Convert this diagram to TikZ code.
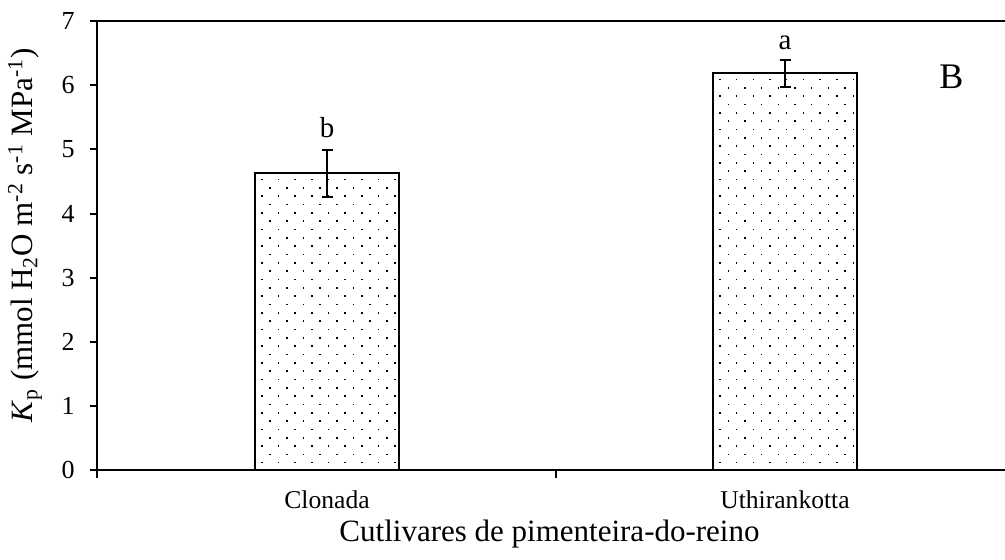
\documentclass[tikz,border=0pt]{standalone}
\usepackage{fontspec}
\setmainfont{Liberation Serif}
\usetikzlibrary{positioning}

\tikzset{
  axisline/.style={line width=1pt},
  barbox/.style={draw, line width=1pt},
  errbar/.style={line width=1pt},
  ticklabel/.style={font=\fontsize{13}{14}\selectfont, anchor=east, inner sep=0pt},
  catlabel/.style={font=\fontsize{12.8}{14}\selectfont, anchor=base, inner sep=0pt},
  siglabel/.style={font=\fontsize{14.5}{16}\selectfont, inner sep=0pt},
  axistitle/.style={font=\fontsize{15.5}{17}\selectfont, inner sep=0pt}
}

% dotted fill of one bar: left, right, top (px units)
\newcommand{\bardots}[3]{%
  \begin{scope}
    \clip (#1,90) rectangle (#2,#3);
    \foreach \r in {0,...,50}
      \foreach \c in {0,...,9}
        \fill ({#1+6.7+16.67*\c+8.33*mod(\r,2)-0.8},{96.5+8.33*\r}) rectangle ++(1.6,1.6);
  \end{scope}}

\begin{document}
\begin{tikzpicture}[x=0.5pt,y=0.5pt]
  \useasboundingbox (0,0) rectangle (1005,560);

  % bars with dots
  \bardots{255}{399}{386.8}
  \bardots{713.3}{856.7}{486.8}

  \begin{scope}[yshift=45pt, y=32.05pt]
    % axes
    \draw[axisline] (1005,7) -- (97,7) -- (97,0) -- (1005,0);
    \foreach \v in {0,...,7} {
      \draw[axisline] (90,\v) -- (97,\v);
      \node[ticklabel] (ytick\v) at (75,\v) {\v};
    }
    \foreach \x in {97,555.7}
      \draw[axisline] (\x,0) -- ++(0pt,-4pt);

    % bars
    \draw[barbox] (255,0) rectangle (399,4.63);
    \draw[barbox] (713.3,0) rectangle (856.7,6.19);

    % error bars
    \coordinate (errC) at (327,4.99);
    \coordinate (errU) at (785,6.40);
    \draw[errbar] (327,4.26) -- (errC);
    \draw[errbar] (321.5,4.26) -- (332.5,4.26);
    \draw[errbar] (321.5,4.99) -- (332.5,4.99);
    \draw[errbar] (785,5.97) -- (errU);
    \draw[errbar] (779.5,5.97) -- (790.5,5.97);
    \draw[errbar] (779.5,6.40) -- (790.5,6.40);

    \node[siglabel, above=6pt of errC] (sigC) {b};
    \node[siglabel, above=5pt of errU] (sigU) {a};
  \end{scope}

  % labels
  \node[catlabel] (catC) at (327,51) {Clonada};
  \node[catlabel] (catU) at (785,51) {Uthirankotta};
  \node[axistitle, anchor=base] (xtitle) at (549.5,18) {Cutlivares de pimenteira-do-reino};
  \node[axistitle, rotate=90] (ytitle) at (25,324.5)
    {\textit{K}\textsubscript{p} (mmol H\textsubscript{2}O m\textsuperscript{-2} s\textsuperscript{-1} MPa\textsuperscript{-1})};
  \node[font=\fontsize{18}{20}\selectfont, anchor=base west, inner sep=0pt] (panel) at (939,471.7) {B};
\end{tikzpicture}
\end{document}
